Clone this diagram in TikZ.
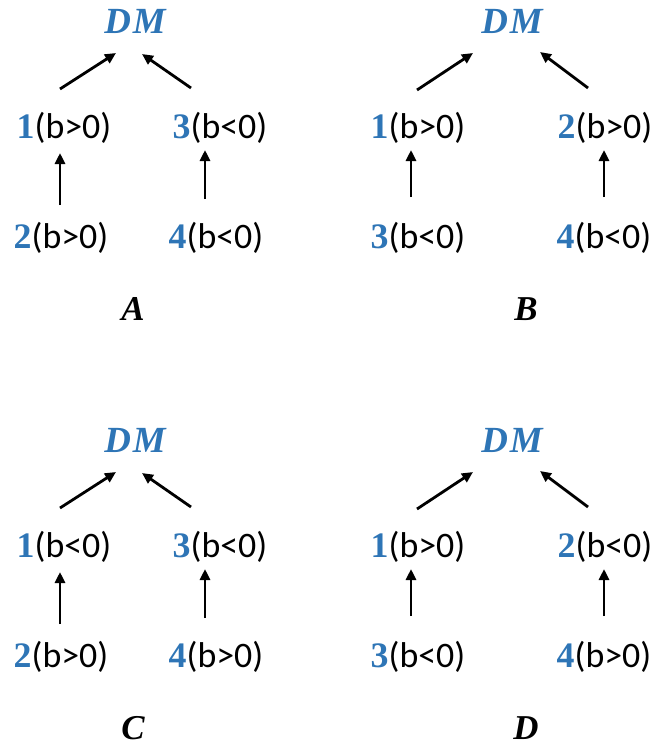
\documentclass[tikz,border=0pt]{standalone}
\usepackage{fontspec}
\setmainfont{Carlito}
\newfontfamily\serfont{Liberation Serif}
\usetikzlibrary{arrows.meta,calc}
\definecolor{dmblue}{RGB}{46,117,182}
\newcommand\nm[1]{{\serfont\bfseries\color{dmblue}#1}}
\tikzset{
  every node/.style={inner sep=0pt,font=\fontsize{36}{40}\selectfont},
  dmnode/.style={font=\fontsize{37}{40}\selectfont\serfont\bfseries\itshape, text=dmblue},
  capnode/.style={font=\fontsize{35}{40}\selectfont\serfont\bfseries\itshape},
  arr/.style={line width=2.8bp, -{Triangle[length=11bp,width=10bp]}}
}
% left-style panel (A, C)
\newcommand\leftpanel[7]{%
\begin{scope}[shift={(0,#2)}]
  \node[dmnode] (#1dm) at (135,21) {D\kern2bp M};
  \node (#1a) at (64,128) {#3};
  \node (#1b) at (220,128) {#4};
  \node (#1c) at (61,238) {#5};
  \node (#1d) at (216,238) {#6};
  \node[capnode] (#1cap) at (133,309) {#7};
  \draw[arr] ($(#1a.center)+(-4,-39)$) -- ($(#1dm.center)+(-19,32)$);
  \draw[arr] ($(#1b.center)+(-29,-40)$) -- ($(#1dm.center)+(7,33)$);
  \draw[arr] ($(#1c.center)+(-1,-33)$) -- ($(#1a.center)+(-4,25)$);
  \draw[arr] ($(#1d.center)+(-11,-39)$) -- ($(#1b.center)+(-15,22)$);
\end{scope}}
% right-style panel (B, D)
\newcommand\rightpanel[7]{%
\begin{scope}[shift={(0,#2)}]
  \node[dmnode] (#1dm) at (512,21) {D\kern2bp M};
  \node (#1a) at (418,128) {#3};
  \node (#1b) at (605,128) {#4};
  \node (#1c) at (418,238) {#5};
  \node (#1d) at (604,238) {#6};
  \node[capnode] (#1cap) at (526,309) {#7};
  \draw[arr] ($(#1a.center)+(-1,-38)$) -- ($(#1dm.center)+(-39,32)$);
  \draw[arr] ($(#1b.center)+(-17,-40)$) -- ($(#1dm.center)+(28,31)$);
  \draw[arr] ($(#1c.center)+(-7,-41)$) -- ($(#1a.center)+(-7,22)$);
  \draw[arr] ($(#1d.center)+(0,-41)$) -- ($(#1b.center)+(-1,22)$);
\end{scope}}
\begin{document}
\begin{tikzpicture}[x=1bp,y=-1bp]
\useasboundingbox (0,0) rectangle (656,746);
\leftpanel{A}{0}{\nm{1}(b>0)}{\nm{3}(b<0)}{\nm{2}(b>0)}{\nm{4}(b<0)}{A}
\rightpanel{B}{0}{\nm{1}(b>0)}{\nm{2}(b>0)}{\nm{3}(b<0)}{\nm{4}(b<0)}{B}
\leftpanel{C}{419}{\nm{1}(b<0)}{\nm{3}(b<0)}{\nm{2}(b>0)}{\nm{4}(b>0)}{C}
\rightpanel{D}{419}{\nm{1}(b>0)}{\nm{2}(b<0)}{\nm{3}(b<0)}{\nm{4}(b>0)}{D}
\end{tikzpicture}
\end{document}
